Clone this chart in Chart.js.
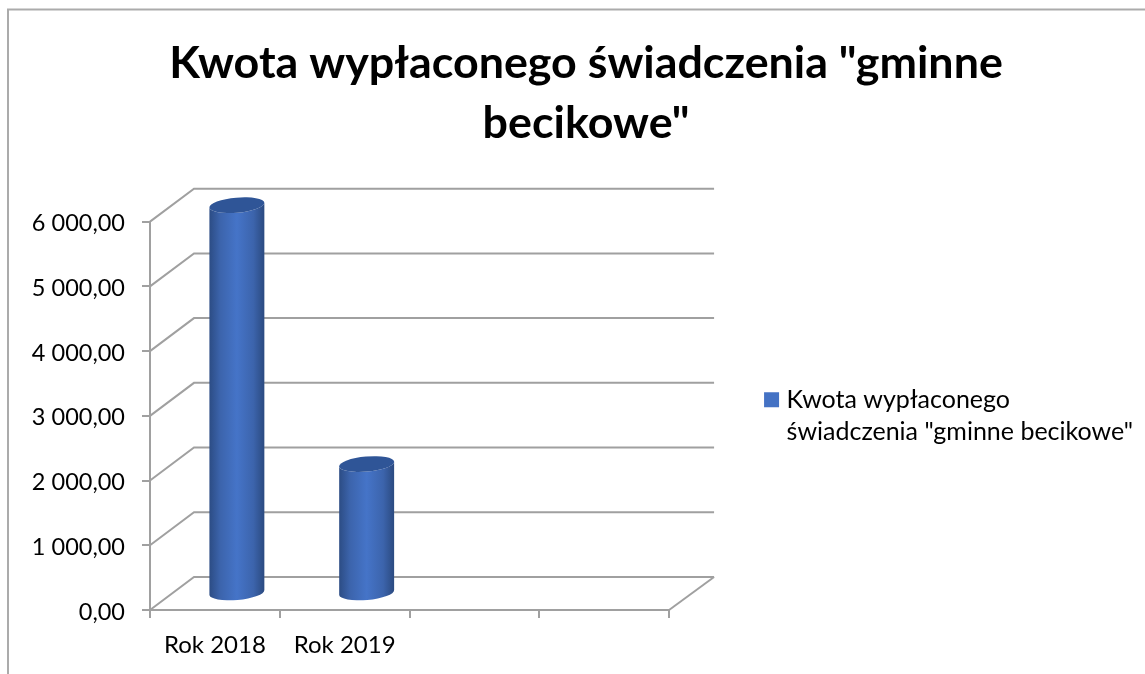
<!DOCTYPE html>
<html><head><meta charset="utf-8">
<style>html,body{margin:0;padding:0;background:#fff}canvas{display:block}</style>
<script src="https://cdn.jsdelivr.net/npm/chart.js@4"></script></head>
<body><div style="width:1145px;height:674px"><canvas id="c" width="1145" height="674"></canvas></div>
<script>
const categories = ['Rok 2018', 'Rok 2019', '', ''];
const values = [6000, 2000, null, null];
const seriesName = 'Kwota wypłaconego świadczenia "gminne becikowe"';
const legendLines = ['Kwota wypłaconego', 'świadczenia "gminne becikowe"'];
const titleLines = ['Kwota wypłaconego świadczenia "gminne', 'becikowe"'];
const axisColor = '#A0A0A0';
const depthX = 44, depthY = 33;

function plTick(v){
  return v.toFixed(2).replace('.', ',').replace(/\B(?=(\d{3})(?!\d))/g, ' ');
}

const scene3d = {
  id: 'scene3d',
  afterUpdate(chart){
    const l = chart.legend;
    l.top += 4; l.bottom += 4; l.left -= 2; l.right -= 2;
  },
  beforeDraw(chart){
    const ctx = chart.ctx;
    ctx.save();
    ctx.strokeStyle = '#ABABAB'; ctx.lineWidth = 2;
    ctx.beginPath();
    ctx.moveTo(8, chart.height); ctx.lineTo(8, 9.5); ctx.lineTo(chart.width, 9.5);
    ctx.stroke();
    ctx.restore();
  },
  beforeDatasetsDraw(chart){
    const {ctx, chartArea:a, scales:{y}} = chart;
    ctx.save();
    ctx.strokeStyle = axisColor; ctx.lineWidth = 2;
    y.ticks.forEach(t => {
      const py = y.getPixelForValue(t.value);
      ctx.beginPath();
      ctx.moveTo(a.left, py);
      ctx.lineTo(a.left + depthX, py - depthY);
      ctx.lineTo(a.right + depthX + 1, py - depthY);
      ctx.stroke();
    });
    const by = y.getPixelForValue(0);
    ctx.beginPath();
    ctx.moveTo(a.right, by);
    ctx.lineTo(a.right + depthX + 1, by - depthY);
    ctx.stroke();
    ctx.restore();
  },
  beforeDatasetDraw(chart, args){
    const {ctx} = chart;
    const meta = args.meta;
    const rot = -5 * Math.PI / 180;
    meta.data.forEach((el, i) => {
      if (values[i] == null) return;
      const cx = el.x + depthX / 2, w = el.width, rx = w / 2, ry = 7.5;
      const top = el.y - depthY / 2, base = el.base - depthY / 2;
      const left = cx - rx, right = cx + rx;
      const g = ctx.createLinearGradient(left, 0, right, 0);
      g.addColorStop(0, '#2C4C84');
      g.addColorStop(0.2, '#3C64AC');
      g.addColorStop(0.5, '#4574C8');
      g.addColorStop(0.8, '#3C64AC');
      g.addColorStop(1, '#2B4A80');
      ctx.save();
      ctx.fillStyle = g;
      ctx.beginPath();
      ctx.ellipse(cx, top, rx, ry, rot, Math.PI, 0, true);
      ctx.ellipse(cx, base, rx, ry, rot, 0, Math.PI, false);
      ctx.closePath();
      ctx.fill();
      ctx.fillStyle = '#2F5597';
      ctx.beginPath();
      ctx.ellipse(cx, top, rx, ry, rot, 0, Math.PI * 2);
      ctx.fill();
      ctx.restore();
    });
    return false;
  }
};

new Chart(document.getElementById('c'), {
  type: 'bar',
  data: { labels: categories, datasets: [{
    label: seriesName, data: values, backgroundColor: '#4472C4',
    barPercentage: 0.85, categoryPercentage: 0.5
  }]},
  plugins: [scene3d],
  options: {
    responsive: false, animation: false,
    layout: { padding: { left: 27, right: 0, top: 0, bottom: 0 } },
    plugins: {
      tooltip: { enabled: false },
      title: { display: true, text: titleLines, color: '#000',
        font: { family: 'Lato', size: 44.8, weight: 'bold', lineHeight: 1.33 },
        padding: { top: 34, bottom: 68.5 } },
      legend: { position: 'right', align: 'center', maxWidth: 477, fullSize: false,
        labels: { color: '#000', font: { family: 'Lato', size: 25, lineHeight: 1.3 },
          boxWidth: 5, boxHeight: 5, padding: 102,
          generateLabels: () => [{ text: legendLines, fillStyle: '#4472C4', strokeStyle: '#4472C4', lineWidth: 10, datasetIndex: 0 }]
        } }
    },
    scales: {
      x: { offset: true,
        afterFit: s => { s.height = 64; },
        border: { display: true, color: axisColor, width: 2 },
        grid: { display: true, drawOnChartArea: false, drawTicks: true, tickLength: 8, color: axisColor, lineWidth: 2, offset: true },
        ticks: { color: '#000', font: { family: 'Lato', size: 24 }, maxRotation: 0, autoSkip: false, padding: 13 } },
      y: { min: 0, max: 6000,
        afterFit: s => { s.width = 123; },
        border: { display: true, color: axisColor, width: 2 },
        grid: { display: true, drawOnChartArea: false, drawTicks: true, tickLength: 8, color: axisColor, lineWidth: 2 },
        ticks: { stepSize: 1000, color: '#000', font: { family: 'Lato', size: 23.5 }, padding: 17, labelOffset: 2, callback: v => plTick(v) } }
    }
  }
});
</script></body></html>
